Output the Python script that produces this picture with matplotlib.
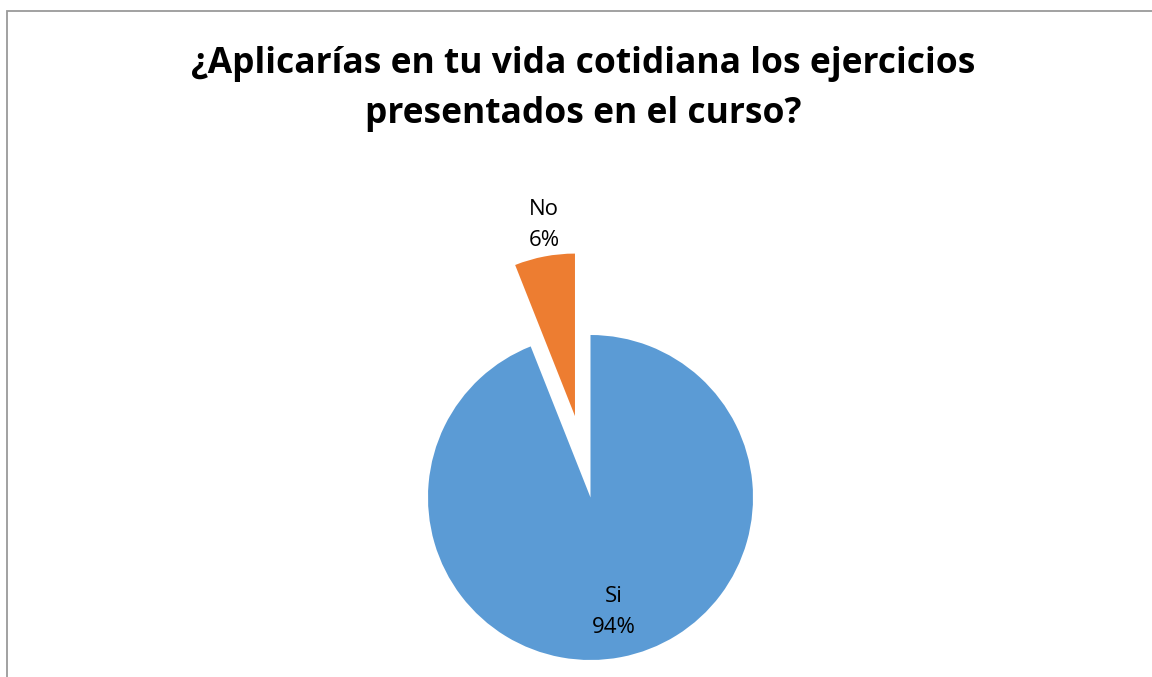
import matplotlib.pyplot as plt
from matplotlib.patches import Rectangle

# Survey answers
labels = ['Si', 'No']
values = [94, 6]
colors = ['#5B9BD5', '#ED7D31']
title = '¿Aplicarías en tu vida cotidiana los ejercicios\npresentados en el curso?'

W, H = 1152, 677
R = 162.5
fig = plt.figure(figsize=(W / 100, H / 100), dpi=100)
ax = fig.add_axes([0, 0, 1, 1])

# explode is in data units here, not a fraction of the radius
wedges, texts = ax.pie(values, colors=colors, explode=[0, 0.51 * R], startangle=90,
                       counterclock=False, center=(590.5, H - 497.5), radius=R,
                       wedgeprops=dict(linewidth=0))

# pie() resets the limits, so set pixel-like coords afterwards
ax.set_xlim(0, W)
ax.set_ylim(0, H)
ax.set_aspect('equal')
ax.axis('off')

# chart frame (cropped on the right and bottom)
ax.add_patch(Rectangle((6.5, -20), W + 20, H - 11 + 20, fill=False,
                       edgecolor='#9a9a9a', lw=1.3))

# data labels
ax.text(614, H - 612, f'{labels[0]}\n{values[0]}%', ha='center', va='center',
        fontsize=16, family='Open Sans', linespacing=1.6)
ax.text(544, H - 225, f'{labels[1]}\n{values[1]}%', ha='center', va='center',
        fontsize=16, family='Open Sans', linespacing=1.6)

ax.text(583, H - 89, title, ha='center', va='center', fontsize=25.5,
        fontweight='bold', family='Open Sans', linespacing=1.52)

fig.savefig('out.png', dpi=100)
